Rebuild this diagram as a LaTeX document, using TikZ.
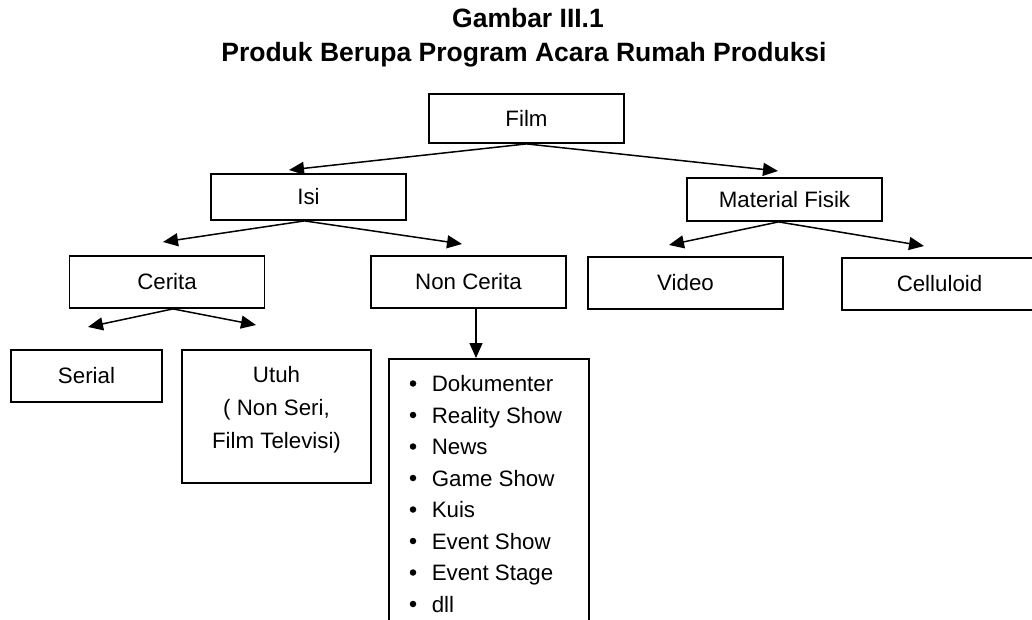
\documentclass[tikz,border=0pt]{standalone}
\usepackage{fontspec}
\setmainfont{Liberation Sans}
\usetikzlibrary{arrows.meta,positioning}

\newcommand{\bodysize}{\fontsize{22.3}{33}\selectfont}

\begin{document}
\begin{tikzpicture}
[
	                x = 1pt,
	                y = -1pt,
	           ->, >= {Triangle[length=15pt,width=13pt]},
	       line width = 1.5pt,
	        box/.style = { draw=black, line width=1.8pt, minimum width=195pt, minimum height=52pt, inner sep=0pt, font=\bodysize },
	     titleln/.style = { anchor=base, inner sep=0pt, font=\bfseries\fontsize{26.5}{32}\selectfont },
	    boxlabel/.style = { anchor=north, align=center, inner sep=0pt, font=\bodysize },
	   listitem/.style = { anchor=base west, inner sep=0pt, font=\bodysize },
	  bulletdot/.style = { draw=none, fill=black, circle, inner sep=0pt, minimum size=6.5pt }
]

    \useasboundingbox (0,0) rectangle (1032,620);

    % title
    \node (gambar)      at (528, 28) [titleln]   {Gambar III.1};
    \node (judul)       at (524, 62) [titleln]   {Produk Berupa Program Acara Rumah Produksi};

    % tree
    \node (film)        at (526.5,118.5) [box, minimum height=49pt] {Film};

    \node (isi)         at (308.5,197)   [box, minimum height=46pt] {Isi};
    \node (material)    at (784.5,199.5) [box, minimum height=43pt] {Material Fisik};

    \node (cerita)      at (167,282)     [box] {Cerita};
    \node (noncerita)   at (468.5,282)   [box] {Non Cerita};
    \node (video)       at (685.5,283)   [box] {Video};
    \node (celluloid)   at (939.5,284)   [box] {Celluloid};

    \node (serial)      at (86.5,376)    [box, minimum width=151pt] {Serial};
    \node (utuh)        at (276.5,416.5) [box, minimum width=189pt, minimum height=133pt] {};
    \node (utuhLabel)   at (276.5,366)   [boxlabel] {Utuh\\( Non Seri,\\Film Televisi)};

    \node (list)        at (489,358)     [box, anchor=north, minimum width=200pt, minimum height=300pt] {};
    \foreach \name [count=\i] in {Dokumenter, Reality Show, News, Game Show, Kuis, Event Show, Event Stage, dll}
    {
        \node (dot\i)   at (413,{383.5+31.5*(\i-1)}) [bulletdot] {};
        \node (item\i)  at (431,{391.5+31.5*(\i-1)}) [listitem]  {\name};
    }

    % arrow tips
    \coordinate (isiTip)       at (289,170);
    \coordinate (materialTip)  at (778,171);
    \coordinate (ceritaTip)    at (163,242);
    \coordinate (noncerTip)    at (462,244);
    \coordinate (serialTip)    at (88,327);
    \coordinate (utuhTip)      at (256,325);
    \coordinate (videoTip)     at (669,245);
    \coordinate (cellTip)      at (924,246);

    \draw (film.south) -> (isiTip);
    \draw (film.south) -> (materialTip);
    \draw ([xshift=-4pt]isi.south) -> (ceritaTip);
    \draw ([xshift=-4pt]isi.south) -> (noncerTip);
    \draw ([xshift=6pt]cerita.south) -> (serialTip);
    \draw ([xshift=6pt]cerita.south) -> (utuhTip);
    \draw ([xshift=7.5pt]noncerita.south) -> ([xshift=-13pt]list.north);
    \draw ([xshift=-6pt]material.south) -> (videoTip);
    \draw ([xshift=-6pt]material.south) -> (cellTip);

\end{tikzpicture}
\end{document}
